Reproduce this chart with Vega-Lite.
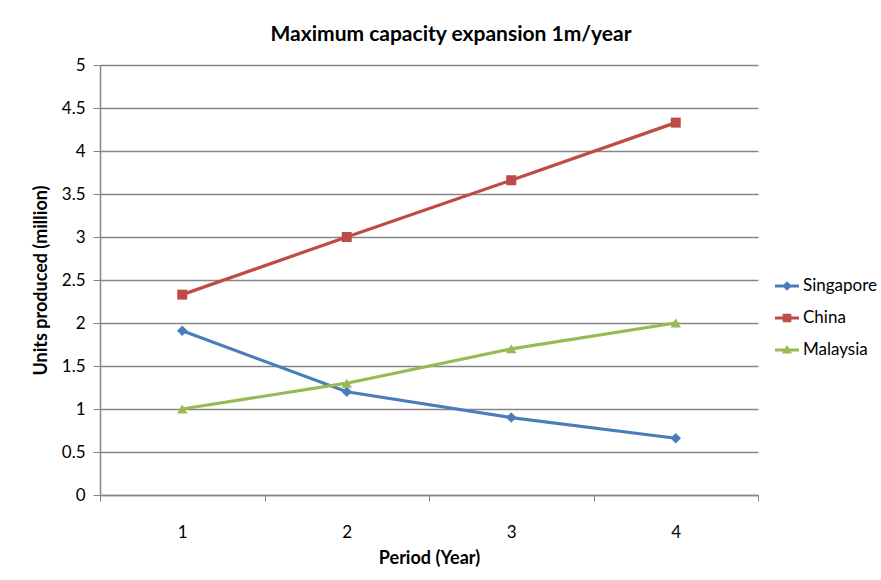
{
  "$schema": "https://vega.github.io/schema/vega-lite/v6.json",
  "autosize": {"type": "none"},
  "width": 658,
  "height": 430,
  "padding": {"left": 100, "top": 65, "right": 123, "bottom": 85},
  "background": "white",
  "config": {
    "view": {"stroke": null},
    "font": "Lato",
    "axis": {"labelFont": "Lato", "titleFont": "Lato"},
    "legend": {"labelFont": "Lato"}
  },
  "title": {
    "text": "Maximum capacity expansion 1m/year",
    "font": "Lato",
    "fontSize": 21,
    "fontWeight": "bold",
    "color": "#000000",
    "anchor": "middle",
    "frame": "group",
    "dx": 22,
    "offset": 11
  },
  "data": {
    "values": [
      {"period": "1", "country": "Singapore", "units": 1.91},
      {"period": "2", "country": "Singapore", "units": 1.2},
      {"period": "3", "country": "Singapore", "units": 0.9},
      {"period": "4", "country": "Singapore", "units": 0.66},
      {"period": "1", "country": "China", "units": 2.33},
      {"period": "2", "country": "China", "units": 3.0},
      {"period": "3", "country": "China", "units": 3.66},
      {"period": "4", "country": "China", "units": 4.33},
      {"period": "1", "country": "Malaysia", "units": 1.0},
      {"period": "2", "country": "Malaysia", "units": 1.3},
      {"period": "3", "country": "Malaysia", "units": 1.7},
      {"period": "4", "country": "Malaysia", "units": 2.0}
    ]
  },
  "encoding": {
    "x": {
      "field": "period",
      "type": "ordinal",
      "bandPosition": 0.5,
      "scale": {"type": "band", "paddingInner": 0, "paddingOuter": 0},
      "axis": {
        "title": "Period (Year)",
        "titleFontSize": 18,
        "titleFontWeight": "bold",
        "titleColor": "#000000",
        "titlePadding": 9,
        "labelAngle": 0,
        "labelFontSize": 17,
        "labelColor": "#000000",
        "labelPadding": 23,
        "tickBand": "extent",
        "tickColor": "#868686",
        "tickSize": 6,
        "domainColor": "#868686",
        "domainWidth": 1.5,
        "grid": false
      }
    },
    "y": {
      "field": "units",
      "type": "quantitative",
      "scale": {"domain": [0, 5], "nice": false},
      "axis": {
        "title": "Units produced (million)",
        "titleFontSize": 18,
        "titleFontWeight": "bold",
        "titleColor": "#000000",
        "titlePadding": 11,
        "values": [0, 0.5, 1, 1.5, 2, 2.5, 3, 3.5, 4, 4.5, 5],
        "format": "~g",
        "labelFontSize": 17,
        "labelColor": "#000000",
        "labelPadding": 8,
        "tickColor": "#868686",
        "tickSize": 7,
        "domainColor": "#868686",
        "domainWidth": 1.5,
        "grid": true,
        "gridColor": "#868686",
        "gridWidth": 1.3
      }
    },
    "color": {
      "field": "country",
      "type": "nominal",
      "scale": {
        "domain": ["Singapore", "China", "Malaysia"],
        "range": ["#4A7EBB", "#BE4B48", "#98B954"]
      },
      "legend": {
        "title": null,
        "labelFontSize": 17,
        "labelColor": "#000000",
        "labelOffset": 4,
        "symbolSize": 576,
        "symbolStrokeWidth": 0,
        "rowPadding": 12,
        "orient": "none",
        "legendX": 675,
        "legendY": 209,
        "encode": {
          "symbols": {
            "update": {
              "shape": {"signal": "datum.value === 'Singapore' ? 'M-1,-0.12L1,-0.12L1,0.12L-1,0.12Z M0,-0.4L0.4,0L0,0.4L-0.4,0Z' : datum.value === 'China' ? 'M-1,-0.12L1,-0.12L1,0.12L-1,0.12Z M-0.36,-0.36L0.36,-0.36L0.36,0.36L-0.36,0.36Z' : 'M-1,-0.12L1,-0.12L1,0.12L-1,0.12Z M0,-0.42L0.42,0.3L-0.42,0.3Z'"},
              "fill": {"signal": "datum.value === 'Singapore' ? '#4A7EBB' : datum.value === 'China' ? '#BE4B48' : '#98B954'"},
              "fillOpacity": {"value": 1},
              "opacity": {"value": 1},
              "strokeWidth": {"value": 0}
            }
          }
        }
      }
    }
  },
  "layer": [
    {
      "mark": {"type": "line", "strokeWidth": 3.2},
      "encoding": {"detail": {"field": "country"}}
    },
    {
      "transform": [{"filter": "datum.country === 'Singapore'"}],
      "mark": {"type": "point", "filled": true, "size": 110, "opacity": 1, "shape": "diamond"}
    },
    {
      "transform": [{"filter": "datum.country === 'China'"}],
      "mark": {"type": "point", "filled": true, "size": 100, "opacity": 1, "shape": "square"}
    },
    {
      "transform": [{"filter": "datum.country === 'Malaysia'"}],
      "mark": {"type": "point", "filled": true, "size": 110, "opacity": 1, "shape": "triangle-up"}
    }
  ]
}
